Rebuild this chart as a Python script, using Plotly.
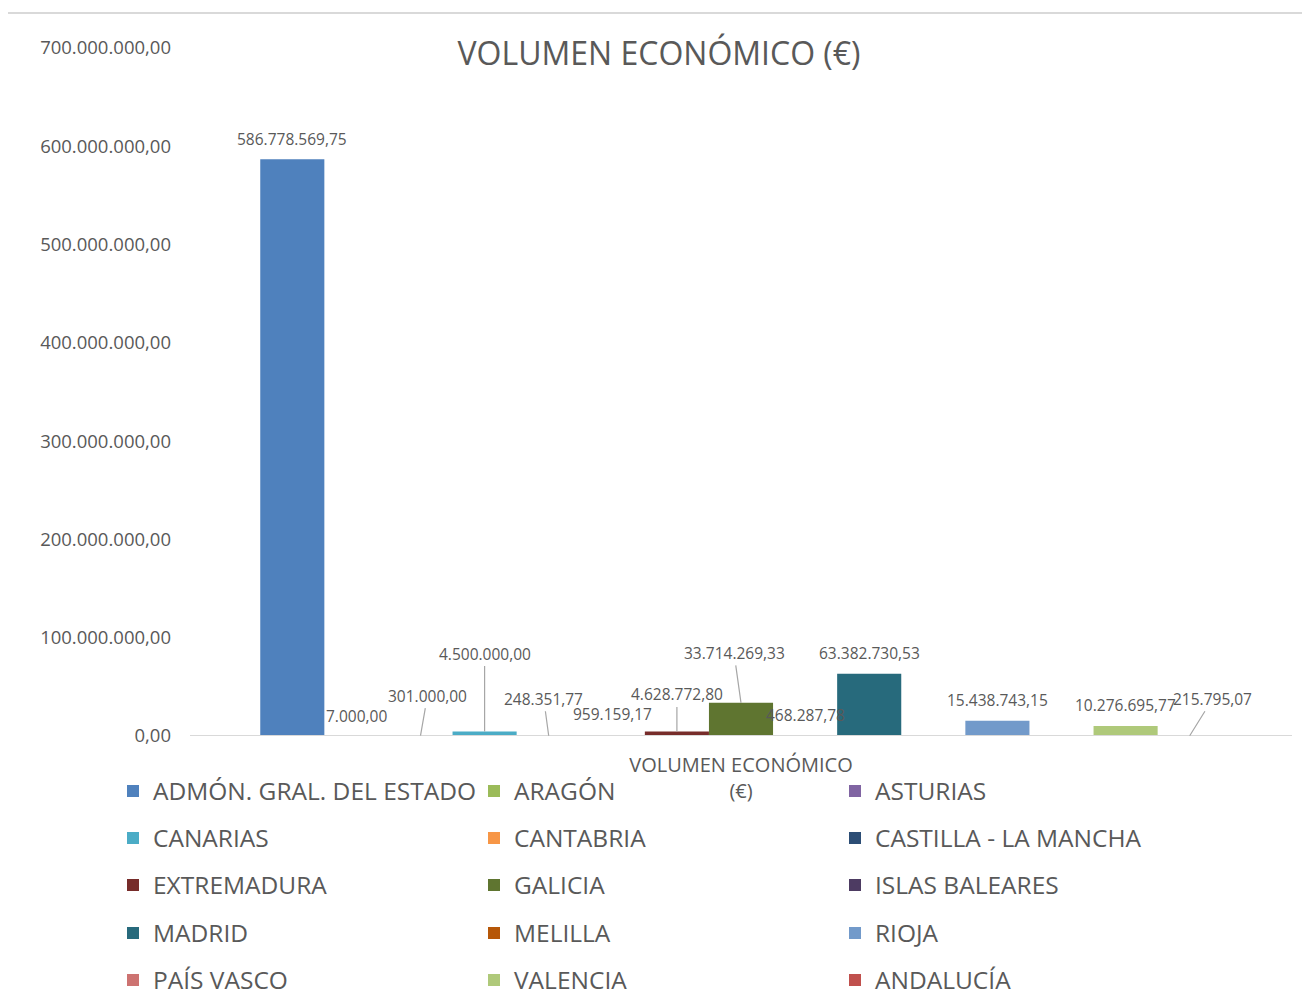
import plotly.graph_objects as go

# ---------------- data ----------------
category = "VOLUMEN ECONÓMICO<br>(€)"
series_names = [
    "ADMÓN. GRAL. DEL ESTADO", "ARAGÓN", "ASTURIAS",
    "CANARIAS", "CANTABRIA", "CASTILLA - LA MANCHA",
    "EXTREMADURA", "GALICIA", "ISLAS BALEARES",
    "MADRID", "MELILLA", "RIOJA",
    "PAÍS VASCO", "VALENCIA", "ANDALUCÍA",
]
series_values = [
    586778569.75, 7000.00, 301000.00,
    4500000.00, 248351.77, 959159.17,
    4628772.80, 33714269.33, 468287.78,
    63382730.53, None, 15438743.15,
    None, 10276695.77, 215795.07,
]
series_colors = [
    "#4F81BD", "#9BBB59", "#8064A2",
    "#4BACC6", "#F79646", "#2C4D75",
    "#772C2A", "#5F7530", "#4D3B62",
    "#276A7C", "#B65708", "#729ACA",
    "#CD7371", "#AFC97A", "#C0504D",
]
y_ticks = [0, 100e6, 200e6, 300e6, 400e6, 500e6, 600e6, 700e6]

# label offsets (pixels) : (dx, dy, leader line?)
label_offsets = [
    (0, -20, False), (0, -20, False), (7, -40, True),
    (0, -78, True), (-5, -37, True), (0, -21, False),
    (0, -37, True), (-7, -50, True), (0, -21, False),
    (0, -21, False), (0, -21, False), (0, -21, False),
    (0, -21, False), (0, -21, False), (23, -37, True),
]

# ---------------- layout constants ----------------
OFF = 8                      # page body margin
W, H = 1294, 991
ML, MR, MT, MB = 190 - OFF, W - (1292 - OFF), 48 - OFF, H - (736 - OFF)
PW, PH = W - ML - MR, H - MT - MB
BARGAP = 0.1275
TXT = "#595959"
FONT = "Open Sans"


def px_x(page_x):
    return (page_x - OFF - ML) / PW


def px_y(page_y):
    return (H - MB - (page_y - OFF)) / PH


def fmt_es(v):
    s = f"{v:,.2f}"
    return s.replace(",", "X").replace(".", ",").replace("X", ".")


fig = go.Figure()
n = len(series_names)
legend_ids = ["legend", "legend2", "legend3", "legend4", "legend5"]
for i, (name, val, col) in enumerate(zip(series_names, series_values, series_colors)):
    fig.add_trace(go.Bar(
        x=[category], y=[val], name=name,
        marker=dict(color=col, line=dict(width=0)),
        legend=legend_ids[i // 3],
        hovertemplate=name + ": %{y:,.2f}<extra></extra>",
    ))

# data labels
w = (1 - BARGAP) / n
annotations = []
for i, val in enumerate(series_values):
    if val is None:
        continue
    dx, dy, leader = label_offsets[i]
    annotations.append(dict(
        x=(i - (n - 1) / 2) * w, y=val, xref="x", yref="y",
        text=fmt_es(val), showarrow=True, arrowhead=0,
        arrowwidth=1.2, arrowcolor="#A6A6A6" if leader else "rgba(0,0,0,0)",
        ax=dx, ay=dy, standoff=0, startstandoff=0,
        font=dict(family=FONT, size=15.5, color=TXT),
    ))

legend_rows_y = [791, 838, 885, 933, 980]
legend_layouts = {}
for k, lid in enumerate(legend_ids):
    legend_layouts[lid] = dict(
        orientation="h", entrywidth=316, entrywidthmode="pixels",
        x=px_x(113), xanchor="left", y=px_y(legend_rows_y[k]), yanchor="middle",
        font=dict(family=FONT, size=24.5, color=TXT),
        bgcolor="rgba(0,0,0,0)", traceorder="normal",
        itemclick=False, itemdoubleclick=False,
    )

shapes = [
    dict(type="line", xref="paper", yref="paper",
         x0=px_x(6), x1=px_x(1320), y0=px_y(13), y1=px_y(13),
         line=dict(color="#D9D9D9", width=2)),
    dict(type="line", xref="paper", yref="paper",
         x0=px_x(6.5), x1=px_x(6.5), y0=px_y(13), y1=px_y(1020),
         line=dict(color="#D9D9D9", width=2)),
    # category axis baseline drawn over the bar bases
    dict(type="line", xref="paper", yref="y", layer="above",
         x0=0, x1=1, y0=0, y1=0,
         line=dict(color="#D9D9D9", width=2)),
]

fig.update_layout(
    width=W, height=H,
    margin=dict(l=ML, r=MR, t=MT, b=MB, autoexpand=False),
    paper_bgcolor="white", plot_bgcolor="white",
    separators=",.",
    barmode="group", bargap=BARGAP, bargroupgap=0,
    font=dict(family=FONT, color=TXT),
    title=dict(text="VOLUMEN ECONÓMICO (€)", xref="container", yref="container",
               x=(659 - OFF) / W, y=1 - (54 - OFF) / H,
               xanchor="center", yanchor="middle",
               font=dict(family=FONT, size=32, color=TXT)),
    xaxis=dict(showline=False,
               showgrid=False, ticks="", zeroline=False,
               ticklabelstandoff=15,
               tickfont=dict(family=FONT, size=20, color=TXT)),
    yaxis=dict(range=[0, 700e6], tickvals=y_ticks, tickformat=",.2f",
               showgrid=False, zeroline=False, showline=False, ticks="",
               ticklabelstandoff=18,
               tickfont=dict(family=FONT, size=18.5, color=TXT)),
    annotations=annotations,
    shapes=shapes,
    **legend_layouts,
)

fig.write_html("out.html")
